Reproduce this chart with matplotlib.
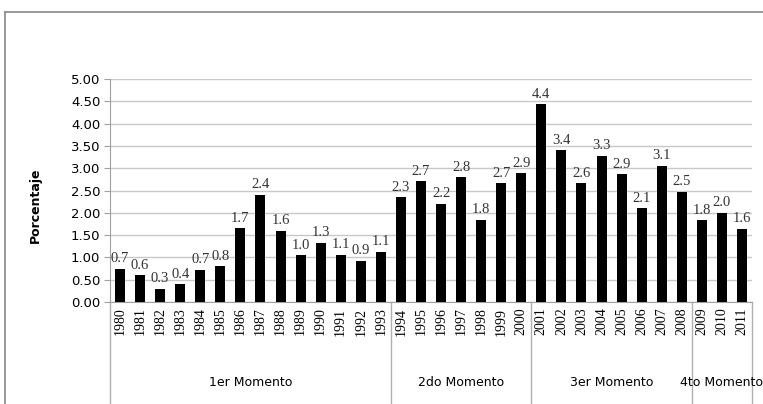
import matplotlib
matplotlib.use('Agg')
import matplotlib.pyplot as plt
from matplotlib.lines import Line2D

years = [str(y) for y in range(1980, 2012)]
values = [0.75, 0.60, 0.30, 0.40, 0.72, 0.80, 1.65, 2.40, 1.60, 1.05, 1.33, 1.06, 0.93, 1.13,
          2.35, 2.71, 2.20, 2.80, 1.84, 2.66, 2.89,
          4.43, 3.40, 2.66, 3.28, 2.86, 2.10, 3.06, 2.47,
          1.83, 2.00, 1.64]
labels = ['0.7', '0.6', '0.3', '0.4', '0.7', '0.8', '1.7', '2.4', '1.6', '1.0', '1.3', '1.1', '0.9', '1.1',
          '2.3', '2.7', '2.2', '2.8', '1.8', '2.7', '2.9',
          '4.4', '3.4', '2.6', '3.3', '2.9', '2.1', '3.1', '2.5',
          '1.8', '2.0', '1.6']
groups = ['1er Momento', '2do Momento', '3er Momento', '4to Momento']
group_sizes = [14, 7, 8, 3]

sans = ['Liberation Sans Narrow', 'DejaVu Sans']
serif = ['Liberation Serif', 'DejaVu Serif']

fig = plt.figure(figsize=(7.63, 4.04), dpi=100)
ax = fig.add_axes([110 / 763, 102 / 404, 642 / 763, 223 / 404])

x = list(range(len(years)))
ax.bar(x, values, width=0.5, color='black', zorder=3)
for xi, v, t in zip(x, values, labels):
    ax.annotate(t, (xi, v), xytext=(0, 2.5), textcoords='offset points',
                ha='center', va='bottom', fontsize=10.5, family=serif, color='#333333')

ax.set_xlim(-0.5, len(years) - 0.5)
ax.set_ylim(0, 5)
ax.set_yticks([i * 0.5 for i in range(11)])
ax.set_yticklabels(['%.2f' % (i * 0.5) for i in range(11)], family=sans, fontsize=9.5)
ax.yaxis.grid(True, color='#c8c8c8', linewidth=1)
ax.set_axisbelow(True)
ax.tick_params(axis='y', length=4, color='#a0a0a0', pad=3)

ax.set_xticks(x)
ax.set_xticklabels(years, rotation=90, family=serif, fontsize=10)
ax.tick_params(axis='x', length=0, pad=4)

for s in ['top', 'right']:
    ax.spines[s].set_visible(False)
ax.spines['left'].set_color('#a0a0a0')
ax.spines['bottom'].set_color('#a0a0a0')

ax.set_ylabel('Porcentaje', family=sans, fontsize=9, fontweight='bold')
ax.yaxis.set_label_coords(-0.106, 0.435)

# separadores y etiquetas de momentos
tr = ax.get_xaxis_transform()
start = 0
bounds = [0]
for g, n in zip(groups, group_sizes):
    center = start + (n - 1) / 2
    ax.text(center, -0.36, g, transform=tr, ha='center', va='center',
            family=sans, fontsize=9, clip_on=False)
    start += n
    bounds.append(start)
for b in bounds:
    ax.plot([b - 0.5, b - 0.5], [0, -0.47], transform=tr, color='#b0b0b0',
            linewidth=1, clip_on=False)

# marco exterior
fig.add_artist(Line2D([5 / 763, 5 / 763], [0, 392 / 404], color='#888888', linewidth=1.2))
fig.add_artist(Line2D([5 / 763, 1], [392 / 404, 392 / 404], color='#888888', linewidth=1.2))

fig.savefig('out.png', dpi=100)
